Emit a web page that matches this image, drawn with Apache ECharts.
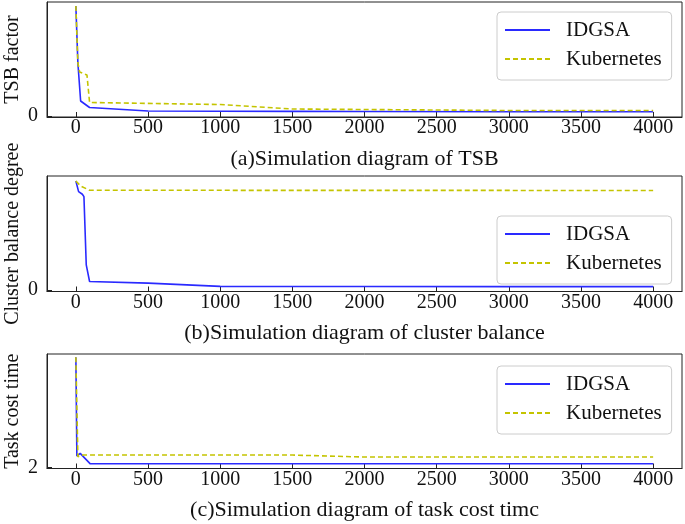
<!DOCTYPE html>
<html><head><meta charset="utf-8">
<script src="https://cdn.jsdelivr.net/npm/echarts@6/dist/echarts.min.js"></script>
<style>html,body{margin:0;padding:0;background:#fff}#c{width:685px;height:524px}</style>
</head><body><div id="c"></div>
<script>
// ---- data ----
const seriesNames = ['IDGSA', 'Kubernetes'];
const xTicks = [0, 500, 1000, 1500, 2000, 2500, 3000, 3500, 4000];

// (a) TSB factor
const tsbIdgsaX = [0, 14, 33, 95, 500, 1000, 1500, 2000, 3000, 4000];
const tsbIdgsaY = [1.10, 0.53, 0.15, 0.085, 0.05, 0.048, 0.046, 0.045, 0.043, 0.042];
const tsbK8sX = [0, 14, 26, 77, 95, 1000, 1500, 2000, 3000, 4000];
const tsbK8sY = [1.10, 0.53, 0.44, 0.41, 0.135, 0.115, 0.07, 0.065, 0.055, 0.055];

// (b) cluster balance degree
const cbIdgsaX = [0, 19, 45, 56, 72, 95, 500, 1000, 2000, 3000, 4000];
const cbIdgsaY = [1.093, 0.986, 0.96, 0.936, 0.253, 0.086, 0.07, 0.037, 0.036, 0.035, 0.035];
const cbK8sX = [0, 33, 95, 4000];
const cbK8sY = [1.093, 1.043, 1.0, 0.998];

// (c) task cost time
const tctIdgsaX = [0, 7, 30, 100, 4000];
const tctIdgsaY = [3.106, 2.113, 2.14, 2.035, 2.035];
const tctK8sX = [0, 14, 49, 1500, 2000, 4000];
const tctK8sY = [3.106, 2.106, 2.123, 2.123, 2.103, 2.103];

const yTicks = [[0], [0], [2]];
const yLabels = ['TSB factor', 'Cluster balance degree', 'Task cost time'];
const xLabels = ['(a)Simulation diagram of TSB', '(b)Simulation diagram of cluster balance', '(c)Simulation diagram of task cost timc'];

// ---- chart ----
const FONT = 'Liberation Serif';
const BLUE = '#2a2aff';
const YEL = '#c4c400';
const zip = (xs, ys) => xs.map((x, i) => [x, ys[i]]);
const panels = [
  {top: 2, height: 115, ymin: -0.01, ymax: 1.14, legendTop: 12, a: zip(tsbIdgsaX, tsbIdgsaY), b: zip(tsbK8sX, tsbK8sY)},
  {top: 176, height: 115.5, ymin: -0.014, ymax: 1.143, legendTop: 216, a: zip(cbIdgsaX, cbIdgsaY), b: zip(cbK8sX, cbK8sY)},
  {top: 354, height: 114.5, ymin: 1.988, ymax: 3.138, legendTop: 366, a: zip(tctIdgsaX, tctIdgsaY), b: zip(tctK8sX, tctK8sY)}
];
const txt = {fontFamily: FONT, fontSize: 20, color: '#111'};
const titleTxt = {fontFamily: FONT, fontSize: 22, color: '#111'};
const legendTxt = {fontFamily: FONT, fontSize: 21, color: '#111'};
const option = {
  animation: false,
  backgroundColor: '#fff',
  grid: panels.map(p => ({left: 47, right: 3, top: p.top, height: p.height, show: true, borderColor: '#222', borderWidth: 1,
    containLabel: false, outerBoundsMode: 'none'})),
  xAxis: panels.map((p, i) => ({
    type: 'value', gridIndex: i, min: -200, max: 4200,
    axisLine: {show: true, onZero: false, lineStyle: {color: '#222', width: 1}},
    axisTick: {show: true, inside: true, length: 5, customValues: xTicks, lineStyle: {color: '#222'}},
    axisLabel: Object.assign({customValues: xTicks, margin: 1, formatter: v => String(v)}, txt),
    splitLine: {show: false},
    name: xLabels[i], nameLocation: 'middle', nameGap: 31, nameTextStyle: titleTxt
  })),
  yAxis: panels.map((p, i) => ({
    type: 'value', gridIndex: i, min: p.ymin, max: p.ymax,
    axisLine: {show: true, onZero: false, lineStyle: {color: '#222', width: 1}},
    axisTick: {show: true, inside: true, length: 5, customValues: yTicks[i], lineStyle: {color: '#222'}},
    axisLabel: Object.assign({customValues: yTicks[i], margin: 9, formatter: v => String(v)}, txt),
    splitLine: {show: false},
    name: yLabels[i], nameLocation: 'middle', nameGap: 24, nameMoveOverlap: false, nameTextStyle: txt
  })),
  legend: panels.map(p => ({
    data: seriesNames, orient: 'vertical', left: 497, top: p.legendTop,
    itemWidth: 45, itemHeight: 14, itemGap: 7,
    padding: [7, 10, 10, 7],
    itemStyle: {opacity: 0, borderWidth: 0},
    backgroundColor: 'rgba(255,255,255,0.8)', borderColor: '#ccc', borderWidth: 1, borderRadius: 4,
    textStyle: Object.assign({padding: [0, 0, 0, 11], lineHeight: 22}, legendTxt)
  })),
  series: []
};
panels.forEach((p, i) => {
  option.series.push({name: seriesNames[0], type: 'line', xAxisIndex: i, yAxisIndex: i, data: p.a,
    showSymbol: false, symbol: 'none', color: BLUE, lineStyle: {color: BLUE, width: 1.6}});
  option.series.push({name: seriesNames[1], type: 'line', xAxisIndex: i, yAxisIndex: i, data: p.b,
    showSymbol: false, symbol: 'none', color: YEL, lineStyle: {color: YEL, width: 1.6, type: [5, 3]}});
});
echarts.init(document.getElementById('c'), null, {renderer: 'canvas'}).setOption(option);
</script></body></html>
